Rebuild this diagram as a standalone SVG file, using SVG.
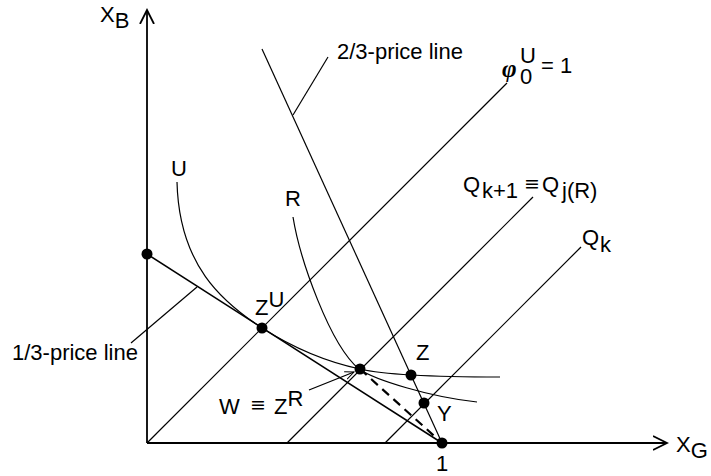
<svg xmlns="http://www.w3.org/2000/svg" width="711" height="476" viewBox="0 0 711 476">
<style>
  text { font-family: "Liberation Sans", Arial, sans-serif; font-size: 22px; fill: #000; }
  .ln { stroke: #000; stroke-width: 1.2; fill: none; }
  .ax { stroke: #000; stroke-width: 1.8; fill: none; }
  .crv { stroke: #000; stroke-width: 1.2; fill: none; }
  .dash { stroke: #000; stroke-width: 2.2; fill: none; stroke-dasharray: 9 6; }
  .pt { fill: #000; }
  .phi { font-family: "Liberation Serif", "DejaVu Serif", serif; font-style: italic; font-weight: bold; font-size: 25px; }
  .eq { font-family: "DejaVu Sans", sans-serif; font-size: 19px; }
</style>
<defs>
  <marker id="axarrow" viewBox="0 0 16 16" refX="14" refY="8" markerWidth="16" markerHeight="16" markerUnits="userSpaceOnUse" orient="auto">
    <path d="M0,1 L14,8 L0,15" fill="none" stroke="#000" stroke-width="1.8"/>
  </marker>
  <marker id="smallarrow" viewBox="0 0 10 10" refX="9" refY="5" markerWidth="10" markerHeight="10" markerUnits="userSpaceOnUse" orient="auto">
    <path d="M0,1 L9,5 L0,9" fill="none" stroke="#000" stroke-width="1"/>
  </marker>
</defs>

<g id="axes">
  <line class="ax" x1="147" y1="443" x2="147" y2="10" marker-end="url(#axarrow)"/>
  <line class="ax" x1="147" y1="443" x2="667" y2="443" marker-end="url(#axarrow)"/>
  <text x="100" y="22">X<tspan dy="6">B</tspan></text>
  <text x="676" y="452">X<tspan dy="6">G</tspan></text>
</g>

<g id="connectors">
  <line class="ln" x1="147" y1="443" x2="507" y2="83"/>
  <line class="ln" x1="287" y1="443" x2="533" y2="197"/>
  <line class="ln" x1="385" y1="443" x2="581" y2="247"/>
  <line class="ln" x1="147" y1="254" x2="442" y2="443" style="stroke-width:1.5"/>
  <line class="ln" x1="262" y1="49" x2="442" y2="443"/>
  <line class="ln" x1="328" y1="57" x2="293" y2="115"/>
  <line class="ln" x1="131" y1="343" x2="197" y2="287"/>
  <line class="ln" x1="309" y1="390" x2="354" y2="372" marker-end="url(#smallarrow)"/>
  <line class="dash" x1="360" y1="369" x2="442" y2="443"/>
</g>

<g id="curve-U">
  <path class="crv" d="M177,182 C179,265 222,302 262,328 C295,349 327,362 360,369 C385,375 450,377 500,377"/>
  <text x="171" y="176">U</text>
</g>

<g id="curve-R">
  <path class="crv" d="M293,217 C300,260 330,345 359,369 C375,380 430,397 477,402"/>
  <text x="285" y="206">R</text>
</g>

<g id="label-23">
  <text x="337" y="59">2/3-price line</text>
</g>

<g id="label-13">
  <text x="12" y="360">1/3-price line</text>
</g>

<g id="label-phi">
  <text class="phi" x="502" y="77">φ</text>
  <text x="520" y="63">U</text>
  <text x="520" y="84">0</text>
  <text x="541" y="73">= 1</text>
</g>

<g id="label-Qk1">
  <text x="463" y="192">Q</text>
  <text x="482" y="198">k+1</text>
  <text class="eq" x="524" y="190">≡</text>
  <text x="542" y="192">Q</text>
  <text x="562" y="198">j(R)</text>
</g>

<g id="label-Qk">
  <text x="582" y="245">Q</text>
  <text x="600" y="252">k</text>
</g>

<g id="point-axis">
  <circle class="pt" cx="147" cy="254" r="5.5"/>
</g>

<g id="point-ZU">
  <circle class="pt" cx="262" cy="328" r="5.5"/>
  <text x="255" y="315">Z<tspan dy="-8">U</tspan></text>
</g>

<g id="point-W">
  <circle class="pt" cx="360" cy="369" r="5.5"/>
  <text x="219" y="414">W</text>
  <text class="eq" x="250" y="411">≡</text>
  <text x="274" y="414">Z<tspan dy="-8">R</tspan></text>
</g>

<g id="point-Z">
  <circle class="pt" cx="411" cy="375" r="5.5"/>
  <text x="416" y="360">Z</text>
</g>

<g id="point-Y">
  <circle class="pt" cx="424" cy="403" r="5.5"/>
  <text x="437" y="421">Y</text>
</g>

<g id="point-1">
  <circle class="pt" cx="442" cy="443" r="5.5"/>
  <text x="436" y="471">1</text>
</g>
</svg>
